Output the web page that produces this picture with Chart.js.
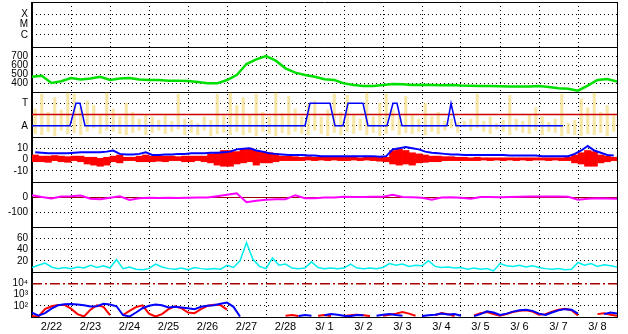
<!DOCTYPE html>
<html>
<head>
<meta charset="utf-8">
<script src="https://cdn.jsdelivr.net/npm/chart.js@4.4.0/dist/chart.umd.min.js"></script>
<style>
  body { margin: 0; background: #fff; }
  canvas { display: block; }
</style>
</head>
<body>
<canvas id="chart" width="628" height="334"></canvas>
<script>
// days on the time axis, one label per day (2/22 00UT .. 3/9 00UT)
const dayLabels = ['2/22', '2/23', '2/24', '2/25', '2/26', '2/27', '2/28', '3/ 1', '3/ 2', '3/ 3', '3/ 4', '3/ 5', '3/ 6', '3/ 7', '3/ 8'];

// solar wind speed, every 6 h
const windSpeed = [470, 480, 400, 420, 455, 440, 450, 470, 433, 450, 455, 440, 433, 433, 426, 426, 422, 411, 396, 396,
  433, 489, 611, 663, 700, 648, 563, 515, 489, 470, 441, 433, 396, 378, 367, 367, 378, 390, 385, 378,
  380, 378, 375, 378, 372, 370, 367, 367, 365, 360, 360, 360, 367, 355, 341, 335, 315, 370, 433, 444, 415];

// sector (A / T) trace: times in days, level 1 = A, 3 = T
const sectorTimes = [0, 0.974, 1.128, 1.231, 1.359, 7.0, 7.128, 7.641, 7.769, 7.974, 8.103, 8.487, 8.615, 9.103, 9.256, 9.359, 9.487, 10.64, 10.744, 10.769, 10.872, 13.615];
const sectorLevels = [1, 1, 3, 3, 1, 1, 3, 3, 1, 1, 3, 3, 1, 1, 3, 3, 1, 1, 3, 3, 1, 1];
const sectorLine = 2;

// yellow scatter in the A/T panel, 4 h bins, low / high
const yellowLo = [0.3, 0.2, 0.5, 0.1, 0.6, 0.3, 0.4, 0.2, 0.5, 0.8, 0.3, 0.6, 0.5, 0.3, 0.2, 0.4, 0.6, 0.2,
  0.4, 0.6, 0.3, 0.5, 0.7, 0.2, 0.4, 0.2, 0.6, 0.1, 0.3, 0.4, 0.2, 0.5, 0.2, 0.4, 0.1, 0.5,
  0.3, 0.1, 0.4, 0.2, 0.5, 0.3, 0.2, 0.6, 0.3, 0.1, 0.4, 0.2, 0.5, 0.3, 0.6, 0.2, 0.4, 0.1,
  0.3, 0.6, 0.2, 0.4, 0.3, 0.5, 0.2, 0.5, 0.3, 0.6, 0.8, 0.4, 0.9, 0.6, 0.8, 0.5, 0.3, 0.7,
  0.5, 0.2, 0.6, 0.4, 0.3, 0.6, 0.2, 0.5, 0.4, 0.1, 0.3, 0.2, 0.1, 0.3, 0.2, 0.4, 0.1, 0.5];
const yellowHi = [2.5, 3.8, 2.2, 3.5, 2.4, 3.9, 3.8, 2.6, 3.2, 2.8, 2.0, 3.9, 2.5, 1.8, 3.0, 2.2, 1.6, 2.0,
  1.8, 1.5, 1.9, 1.4, 3.8, 1.6, 1.5, 1.2, 1.8, 1.5, 3.8, 1.9, 3.9, 2.8, 3.5, 2.0, 3.8, 2.2,
  1.8, 3.9, 2.1, 3.6, 2.5, 1.8, 2.9, 3.2, 1.8, 2.4, 3.8, 2.2, 3.7, 2.0, 1.6, 3.9, 1.8, 3.0,
  3.8, 2.4, 1.8, 3.6, 2.0, 1.6, 3.0, 1.8, 2.2, 1.4, 1.6, 1.3, 1.4, 1.6, 3.8, 1.4, 1.8, 1.2,
  1.5, 3.7, 1.6, 1.4, 1.9, 2.6, 1.8, 1.3, 1.6, 3.8, 1.2, 1.5, 3.4, 2.6, 3.9, 2.2, 2.8, 1.9];

// IMF Bt (4 h bins) and Bz range (low / high)
const bt = [6.5, 6, 5.5, 5.5, 5.5, 5.5, 6, 6.5, 6.5, 6.5, 6.5, 7, 8, 5, 4.5, 4.5, 5, 6.5,
  4, 4, 4.5, 4.5, 5, 5, 5.5, 5.5, 5.5, 6, 6, 6.5, 7, 9, 9.5, 10, 8, 7,
  5.5, 5, 4.5, 4, 4, 4, 3.5, 3.5, 3, 3, 3, 3, 3, 3, 3, 3, 3, 2.5,
  3, 9, 10, 11, 10, 9, 7, 6, 5.5, 5, 4.5, 4.5, 4, 4, 4, 4, 4, 4,
  4, 3.5, 3.5, 3.5, 3.5, 3.5, 3, 3, 3, 3, 3, 5, 8, 12, 8, 6, 4, 3.5];
const bzLo = [-2, -2, -2.5, -1, -2, -2.5, -1, -2, -4, -5, -6, -5, -2, -3, -1, -1, -2, -2,
  -2, -1.5, -2, -1, -1, -2, -2, -1, -2, -3, -5, -6, -6, -4, -3, -2, -5, -3,
  -3, -2, -1, -1, -1, -1, -0.5, -1, -0.5, -1, -0.5, -1, -1, -0.5, -1, -0.5, -1, -1.5,
  -2, -4, -5, -4, -5, -3, -2.5, -2, -2, -1, -1, -1, -1, -1, -1, -0.5, -1, -0.5,
  -1, -0.5, -1, -0.5, -1, -0.5, -0.5, -1, -0.5, -1, -1, -3, -4, -6, -6, -3, -2, -1];
const bzHi = [4, 3, 3, 3.5, 3, 2.5, 3, 3, 2, 2, 1, 2, 3, 4, 2, 2, 3, 4,
  3, 3.5, 3, 3, 2.5, 3, 3, 3, 3, 5, 6, 8, 8, 7, 9, 10, 8, 7,
  6, 5, 3, 3, 2.5, 2, 2.5, 2, 2, 2, 2, 2, 2, 2, 1.5, 2, 2, 2,
  2, 8, 9, 8, 6, 5, 4, 3, 3, 2.5, 2.5, 2, 2, 1.5, 2, 1.5, 1.5, 1.5,
  1.5, 1.5, 1.5, 1.5, 1.5, 1.5, 1.5, 1.5, 1.5, 1.5, 2, 4, 6, 8, 7, 4, 3, 2];

// Dst, every 6 h
const dst = [12, 0, -10, 3, 5, 10, -12, -15, -5, 5, -20, -8, -5, -6, -5, -6, -5, -3, -4, 5,
  15, 25, -35, -25, -18, -15, -15, 12, -8, -8, -4, -3, 2, 0, 0, 1, 2, 15, 0, -2,
  -5, -18, -3, -2, -5, -12, 0, 0, -1, 0, 2, 3, 3, 3, 3, 2, -18, -12, -8, -10, -12];

// cyan trace, every 4 h
const cyanTrace = [8, 12, 16, 9, 6, 8, 6, 9, 7, 12, 8, 11, 7, 22, 6, 9, 5, 4, 6, 14,
  9, 6, 5, 7, 4, 8, 6, 5, 6, 5, 12, 8, 20, 52, 22, 10, 6, 25, 12, 14,
  7, 6, 7, 18, 8, 6, 7, 6, 7, 14, 7, 6, 7, 6, 8, 15, 12, 14, 10, 12,
  11, 20, 10, 8, 9, 7, 8, 5, 7, 5, 6, 2, 15, 11, 10, 12, 9, 11, 8, 6,
  5, 6, 4, 5, 17, 12, 15, 10, 13, 11, 9];

// electron flux, every 4 h (null = below the panel)
const fluxBlue = [25, 13, 22, 55, 110, 135, 145, 130, 110, 85, 90, 150, 130, 90, 15, 11, 25, 60, 100, 130,
  110, 70, 80, 70, 60, 50, 80, 100, 110, 150, 190, 80, 11, null, null, null, null, null, null, null,
  null, 12, 15, 13, null, 14, 18, 16, 13, 12, 15, 14, null, 13, 16, 18, 15, 13, null, null,
  12, 14, 16, 20, 17, 18, 13, null, 12, 18, 32, 25, 15, 20, 30, 40, 45, 35, 20, 15,
  25, 40, 50, 45, 20, null, null, null, 18, 25, 20];
const fluxRed = [12, 11, 50, 90, 117, 117, 55, 18, 11, 45, 110, 80, 15, null, 15, 35, 75, 110, 20, 11,
  18, 50, 90, 60, 25, 22, 50, 100, 120, 115, 45, null, null, null, null, null, null, null, null, 13,
  15, 12, null, null, 13, 15, 12, null, 12, 14, 16, 14, 12, null, 13, 16, 20, 28, 20, 13,
  null, null, 14, 22, 18, 12, null, null, 14, 22, 28, 18, 13, 18, 28, 35, 40, 30, 16, 18,
  30, 45, 55, 40, 14, null, null, 18, 22, 16, 13];

// tick values and labels of each panel
const xrayTicks = [-7.15, -6, -5, -4, -2.85];
const xrayText = ['', 'C', 'M', 'X', ''];
const speedTicks = [300, 400, 500, 600, 700, 800];
const speedText = ['', '400', '500', '600', '700', ''];
const sectorTicks = [0, 1, 3, 4];
const sectorText = ['', 'A', 'T', ''];
const imfTicks = [-20, -10, 0, 10, 20];
const imfText = ['', '-10', '0', '10', ''];
const dstTicks = [-200, -100, 0, 100];
const dstText = ['', '-100', '0', ''];
const cyanTicks = [0, 20, 40, 60, 80];
const cyanText = ['', '20', '40', '60', ''];
const fluxTicks = [10, 100, 1000, 10000, 100000];
const fluxText = ['', '10\u00B2', '10\u00B3', '10\u2074', ''];

const FONT = "'Liberation Sans', Arial, sans-serif";
const GRID_COLOR = { frame: '#000', dot: '#000', zero: '#990000', dashdot: '#aa0000' };
const GRID_DASH = { frame: [], dot: [1, 3], zero: [], dashdot: [10, 3, 2, 3] };

function panelAxis(weight, type, min, max, tickVals, tickText, kinds) {
  const kind = ctx => (ctx.tick ? kinds[ctx.index] : null) || 'frame';
  return {
    type: type, position: 'left', stack: 'panels', stackWeight: 1, weight: weight,
    min: min, max: max,
    afterBuildTicks: axis => { axis.ticks = tickVals.map(v => ({ value: v })); },
    afterFit: axis => {
      axis.width = 32;
      axis.paddingTop = 0;
      axis.paddingBottom = 0;
    },
    ticks: {
      autoSkip: false, padding: 4, color: '#000',
      font: { family: FONT, size: 10 },
      callback: (v, i) => tickText[i]
    },
    grid: {
      drawTicks: false, offset: false,
      color: ctx => GRID_COLOR[kind(ctx)],
      lineWidth: ctx => kind(ctx) === 'dashdot' ? 1.5 : 1
    },
    border: { color: '#000', width: 1, dash: ctx => GRID_DASH[kind(ctx)] }
  };
}

const pts = (values, step) => values.map((v, i) => ({ x: i * step, y: v }));
const bins = (lo, hi) => lo.map((v, i) => ({ x: (i + 0.5) / 6, y: [v, hi[i]] }));

const line = (data, axis, color, width) => ({
  type: 'line', data: data, yAxisID: axis, borderColor: color, borderWidth: width,
  pointRadius: 0, tension: 0, fill: false
});

new Chart(document.getElementById('chart'), {
  type: 'line',
  data: {
    datasets: [
      line(sectorTimes.map((t, i) => ({ x: t, y: sectorLevels[i] })), 'ySector', '#0000ff', 1.5),
      line([{ x: 0, y: sectorLine }, { x: 15, y: sectorLine }], 'ySector', '#cc0000', 1.5),
      {
        type: 'bar', data: bins(yellowLo, yellowHi), yAxisID: 'ySector', grouped: false,
        backgroundColor: 'rgba(245, 222, 130, 0.7)', borderWidth: 0, barThickness: 2.5
      },
      line(pts(windSpeed, 0.25), 'ySpeed', '#00e000', 2.5),
      line(bt.map((v, i) => ({ x: (i + 0.5) / 6, y: v })), 'yImf', '#0000ff', 2),
      {
        type: 'bar', data: bins(bzLo, bzHi), yAxisID: 'yImf', grouped: false,
        backgroundColor: '#ff0000', borderWidth: 0, barPercentage: 1, categoryPercentage: 1
      },
      line(pts(dst, 0.25), 'yDst', '#ff00ff', 2),
      line(pts(cyanTrace, 1 / 6), 'yCyan', '#00eeee', 1.5),
      line(pts(fluxBlue, 1 / 6), 'yFlux', '#0000ff', 2),
      line(pts(fluxRed, 1 / 6), 'yFlux', '#ff0000', 2)
    ]
  },
  options: {
    responsive: false,
    animation: false,
    devicePixelRatio: 1,
    layout: { padding: { top: 2, right: 11, bottom: 0, left: 0 } },
    plugins: { legend: { display: false }, tooltip: { enabled: false } },
    scales: {
      x: {
        type: 'linear', min: 0, max: 15, offset: false,
        afterBuildTicks: axis => { axis.ticks = dayLabels.map((d, i) => ({ value: i })).concat([{ value: 15 }]); },
        afterFit: axis => {
          axis.height = 17;
          axis.paddingLeft = 0;
          axis.paddingRight = 0;
        },
        ticks: {
          autoSkip: false, maxRotation: 0, labelOffset: 19.5, padding: 3, color: '#000',
          font: { family: FONT, size: 11 },
          callback: (v, i) => dayLabels[i] || ''
        },
        // bar datasets would shift the grid by half a day otherwise
        grid: { drawTicks: false, offset: false, color: '#000' },
        border: {
          color: '#000',
          dash: ctx => (ctx.tick && ctx.tick.value > 0 && ctx.tick.value < 15) ? [1, 3] : []
        }
      },
      yXray: panelAxis(7, 'linear', -7.15, -2.85, xrayTicks, xrayText, ['frame', 'dot', 'dot', 'dot', 'frame']),
      ySpeed: panelAxis(6, 'linear', 300, 800, speedTicks, speedText, ['frame', 'dot', 'dot', 'dot', 'dot', 'frame']),
      ySector: panelAxis(5, 'linear', 0, 4, sectorTicks, sectorText, ['frame', 'dot', 'dot', 'frame']),
      yImf: panelAxis(4, 'linear', -20, 20, imfTicks, imfText, ['frame', 'dot', 'zero', 'dot', 'frame']),
      yDst: panelAxis(3, 'linear', -200, 100, dstTicks, dstText, ['frame', 'dot', 'zero', 'frame']),
      yCyan: panelAxis(2, 'linear', 0, 80, cyanTicks, cyanText, ['frame', 'dot', 'dot', 'dot', 'frame']),
      yFlux: panelAxis(1, 'logarithmic', 10, 100000, fluxTicks, fluxText, ['frame', 'dot', 'dot', 'dashdot', 'frame'])
    }
  }
});
</script>
</body>
</html>
